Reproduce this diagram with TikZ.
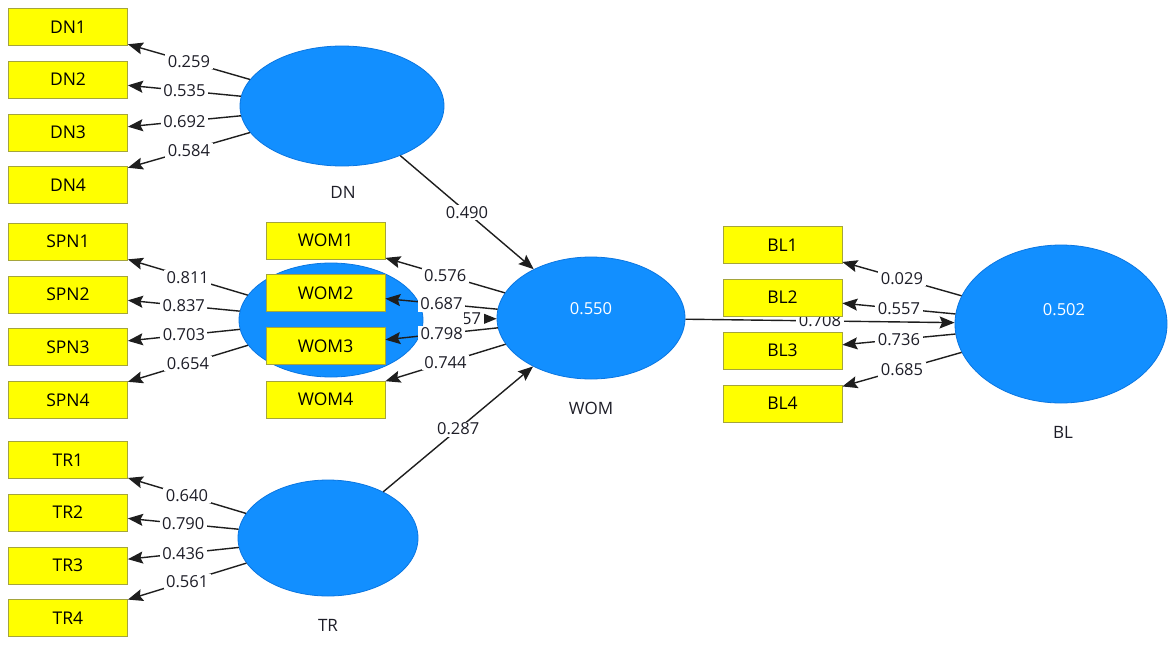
\documentclass[tikz,border=0pt]{standalone}
\usepackage{fontspec}
\setmainfont{Open Sans}
\usetikzlibrary{arrows.meta,shapes.geometric,backgrounds}
\definecolor{indfill}{RGB}{255,255,0}
\definecolor{indline}{RGB}{165,165,60}
\definecolor{lvfill}{RGB}{18,143,255}
\definecolor{lvline}{RGB}{10,118,225}
\definecolor{pathcol}{RGB}{30,30,30}
\definecolor{txtcol}{RGB}{30,30,40}
\begin{document}
\begin{tikzpicture}[x=1pt,y=-1pt,
  indicator/.style={rectangle, fill=indfill, draw=indline, line width=0.8pt,
    minimum width=119pt, minimum height=37pt, inner sep=0pt,
    font=\fontsize{17.5}{19}\selectfont, text=black},
  latent/.style={ellipse, fill=lvfill, draw=lvline, line width=0.8pt, inner sep=0pt},
  coef/.style={fill=white, inner xsep=2.5pt, inner ysep=1.5pt, text=txtcol,
    font=\fontsize{16.5}{18}\selectfont},
  rsq/.style={text=white, font=\fontsize{16.5}{18}\selectfont},
  lvname/.style={text=txtcol, font=\fontsize{17}{19}\selectfont},
  link/.style={draw=pathcol, line width=1.4pt,
    -{Stealth[length=15pt,width=12pt,inset=2.5pt]}}]

\useasboundingbox (0,0) rectangle (1168,659);

% plain white page
\begin{scope}[on background layer]
  \fill[white] (0,0) rectangle (1168,659);
\end{scope}

% latent variables
\node[latent, minimum width=204pt, minimum height=120pt] (dn)  at (342,106) {};
\node[latent, minimum width=184pt, minimum height=114pt] (spn) at (331,320) {};
\node[latent, minimum width=180pt, minimum height=116pt] (tr)  at (328,538) {};
\node[latent, minimum width=188pt, minimum height=122pt] (wom) at (591,318) {};
\node[latent, minimum width=212pt, minimum height=158pt] (bl)  at (1061,324) {};

\node[rsq] (womr2) at (591,309) {0.550};
\node[rsq] (blr2)  at (1064,310) {0.502};

\node[lvname] (dnname)  at (343,192) {DN};
\node[lvname] (trname)  at (328,625) {TR};
\node[lvname] (womname) at (591,408) {WOM};
\node[lvname] (blname)  at (1063,432) {BL};

% indicators
\node[indicator] (dn1) at (68,27)    {DN1};
\node[indicator] (dn2) at (68,79.5)  {DN2};
\node[indicator] (dn3) at (68,132.5) {DN3};
\node[indicator] (dn4) at (68,185)   {DN4};

\node[indicator] (spn1) at (68,241.5) {SPN1};
\node[indicator] (spn2) at (68,294.5) {SPN2};
\node[indicator] (spn3) at (68,347)   {SPN3};
\node[indicator] (spn4) at (68,400)   {SPN4};

\node[indicator] (tr1) at (68,460)   {TR1};
\node[indicator] (tr2) at (68,512.5) {TR2};
\node[indicator] (tr3) at (68,565.5) {TR3};
\node[indicator] (tr4) at (68,618)   {TR4};

\node[indicator] (wom1) at (325.5,240.5) {WOM1};
\node[indicator] (wom2) at (325.5,293)   {WOM2};
\node[indicator] (wom3) at (325.5,346)   {WOM3};
\node[indicator] (wom4) at (325.5,399.5) {WOM4};

\node[indicator] (bl1) at (782.5,245)   {BL1};
\node[indicator] (bl2) at (782.5,297.5) {BL2};
\node[indicator] (bl3) at (782.5,350.5) {BL3};
\node[indicator] (bl4) at (782.5,403.5) {BL4};

% WOM -> BL runs under the BL2 box
\begin{scope}[on background layer]
  \draw[link] (wom) -- node[coef] {0.708} (bl);
\end{scope}

% outer loadings
\draw[link] (dn) -- node[coef] {0.259} (dn1);
\draw[link] (dn) -- node[coef] {0.535} (dn2);
\draw[link] (dn) -- node[coef] {0.692} (dn3);
\draw[link] (dn) -- node[coef] {0.584} (dn4);

\draw[link] (spn) -- node[coef] {0.811} (spn1);
\draw[link] (spn) -- node[coef] {0.837} (spn2);
\draw[link] (spn) -- node[coef] {0.703} (spn3);
\draw[link] (spn) -- node[coef] {0.654} (spn4);

\draw[link] (tr) -- node[coef] {0.640} (tr1);
\draw[link] (tr) -- node[coef] {0.790} (tr2);
\draw[link] (tr) -- node[coef] {0.436} (tr3);
\draw[link] (tr) -- node[coef] {0.561} (tr4);

\draw[link] (bl) -- node[coef] {0.029} (bl1);
\draw[link] (bl) -- node[coef] {0.557} (bl2);
\draw[link] (bl) -- node[coef] {0.736} (bl3);
\draw[link] (bl) -- node[coef] {0.685} (bl4);

% structural paths
\draw[link] (dn) -- node[coef] {0.490} (wom);
\draw[link] (tr) -- node[coef] {0.287} (wom);

% SPN -> WOM, mostly covered near the WOM loadings
\begin{scope}
  \clip (464,300) rectangle (600,340);
  \draw[link] (spn) -- node[coef] {0.657} (wom);
\end{scope}

\draw[link] (wom) -- node[coef] {0.576} (wom1);
\draw[link] (wom) -- node[coef] {0.687} (wom2);
\draw[link] (wom) -- node[coef] {0.798} (wom3);
\draw[link] (wom) -- node[coef] {0.744} (wom4);

\end{tikzpicture}
\end{document}
